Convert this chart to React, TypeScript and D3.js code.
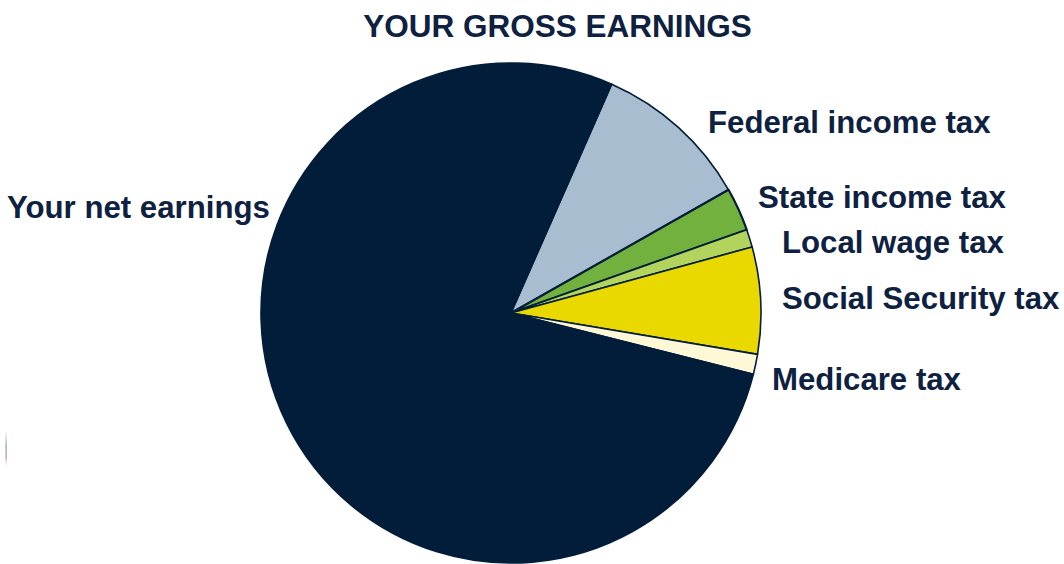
import React from "react";
import * as d3 from "d3";

const categories = [
  "Federal income tax",
  "State income tax",
  "Local wage tax",
  "Social Security tax",
  "Medicare tax",
  "Your net earnings",
];
const values = [10.2, 2.8, 1.15, 6.9, 1.3, 77.65];
const colors = ["#a9bdd0", "#73b13f", "#b2d45c", "#e9d900", "#fff8d6", "#011d3a"];
const title = "YOUR GROSS EARNINGS";

const labelPos: Record<string, { x: number; y: number }> = {
  "Federal income tax": { x: 708, y: 133 },
  "State income tax": { x: 758, y: 208 },
  "Local wage tax": { x: 782, y: 253 },
  "Social Security tax": { x: 782, y: 309 },
  "Medicare tax": { x: 772, y: 390 },
  "Your net earnings": { x: 7, y: 218 },
};

export default function App() {
  const W = 1064;
  const H = 564;
  const cx = 511;
  const cy = 313;
  const r = 250;
  const start = (23.75 * Math.PI) / 180;
  const data = categories.map((c, i) => ({ name: c, value: values[i], color: colors[i] }));
  const pie = d3
    .pie<any>()
    .sort(null)
    .value((d: any) => d.value)
    .startAngle(start)
    .endAngle(start + Math.PI * 2);
  const arcs = pie(data);
  const arc = d3.arc<any>().innerRadius(0).outerRadius(r);
  const textColor = "#0e2140";
  const font = "'Liberation Sans', Arial, Helvetica, sans-serif";

  return (
    <svg
      width={W}
      height={H}
      style={{ position: "absolute", left: 0, top: 0, background: "#fff" }}
    >
      <defs>
        <linearGradient id="artifact" x1="0" y1="0" x2="0" y2="1">
          <stop offset="0" stopColor="#c8d0e0" stopOpacity={0.4} />
          <stop offset="0.4" stopColor="#6a7fb0" stopOpacity={0.8} />
          <stop offset="0.8" stopColor="#d06a80" stopOpacity={0.8} />
          <stop offset="1" stopColor="#f0d0d8" stopOpacity={0.3} />
        </linearGradient>
      </defs>
      <rect x={5.5} y={432} width={1.2} height={33} fill="url(#artifact)" />
      <text
        x={557.5}
        y={37}
        textAnchor="middle"
        fontFamily={font}
        fontWeight="bold"
        fontSize={31.5}
        fill={textColor}
      >
        {title}
      </text>
      <g transform={`translate(${cx},${cy})`}>
        {arcs.map((a, i) => (
          <path
            key={i}
            d={arc(a) as string}
            fill={a.data.color}
            stroke="#011d3a"
            strokeWidth={a.data.name === "State income tax" ? 2.2 : 1.6}
            strokeLinejoin="round"
          />
        ))}
      </g>
      {categories.map((c) => (
        <text
          key={c}
          x={labelPos[c].x}
          y={labelPos[c].y}
          fontFamily={font}
          fontWeight="bold"
          fontSize={31.2}
          fill={textColor}
        >
          {c}
        </text>
      ))}
    </svg>
  );
}
